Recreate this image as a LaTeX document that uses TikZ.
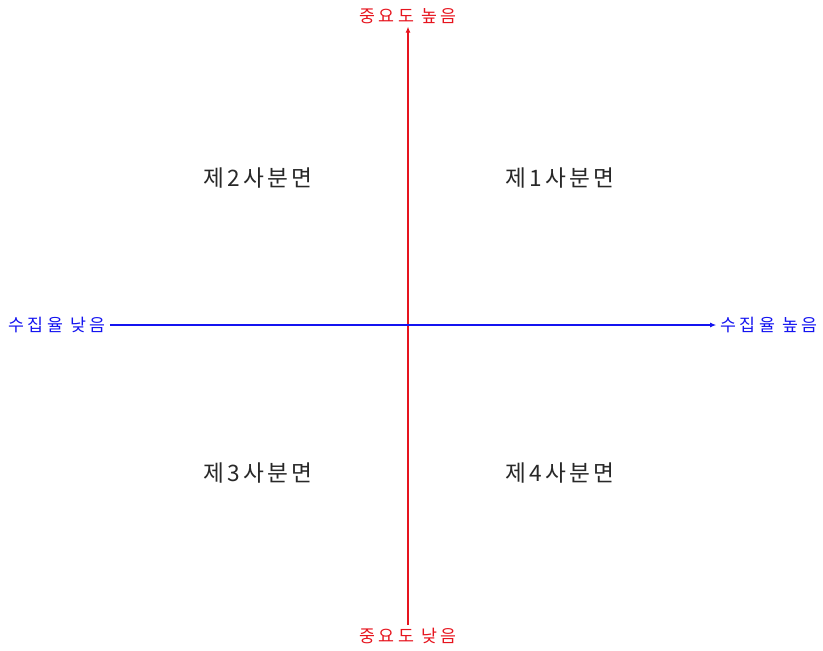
\documentclass[tikz,border=0pt]{standalone}
\usepackage{fontspec}
\setmainfont{Noto Sans CJK KR}
\newfontfamily\quadfont{Noto Sans CJK KR}[LetterSpace=15]
\newfontfamily\axisfont{Noto Sans CJK KR}[LetterSpace=20]
\usetikzlibrary{arrows.meta,positioning}
\definecolor{axisred}{RGB}{230,20,30}
\definecolor{axisblue}{RGB}{20,20,240}
\definecolor{textgrey}{RGB}{40,40,40}
\newcommand{\wsp}{\hspace{0.4em}}
\tikzset{
  quadlabel/.style={font=\quadfont\fontsize{17}{20}\selectfont,text=textgrey,inner sep=2pt},
  redlabel/.style={font=\axisfont\fontsize{13}{15}\selectfont,text=axisred,inner sep=2pt},
  bluelabel/.style={font=\axisfont\fontsize{13}{15}\selectfont,text=axisblue,inner sep=3pt},
  redaxis/.style={-{Latex[length=1.6mm,width=1.3mm]},thick,draw=axisred},
  blueaxis/.style={-{Latex[length=1.6mm,width=1.3mm]},thick,draw=axisblue}
}

\begin{document}
\begin{tikzpicture}[x=0.75pt,y=-0.75pt]
  \useasboundingbox (0,0) rectangle (823,650);
  \node[redlabel] (highimp) at (408,16) {중요도\wsp 높음};
  \node[redlabel] (lowimp) at (408,636) {중요도\wsp 낮음};
  \node[bluelabel] (lowcol) at (57,325) {수집율\wsp 낮음};
  \node[bluelabel] (highcol) at (769,325) {수집율\wsp 높음};
  \node[quadlabel] (q1) at (560,178) {제1사분면};
  \node[quadlabel] (q2) at (258,178) {제2사분면};
  \node[quadlabel] (q3) at (258,473) {제3사분면};
  \node[quadlabel] (q4) at (560,473) {제4사분면};
  \draw[redaxis] (lowimp) -- (highimp);
  \draw[blueaxis] (lowcol) -- (highcol);
\end{tikzpicture}
\end{document}
